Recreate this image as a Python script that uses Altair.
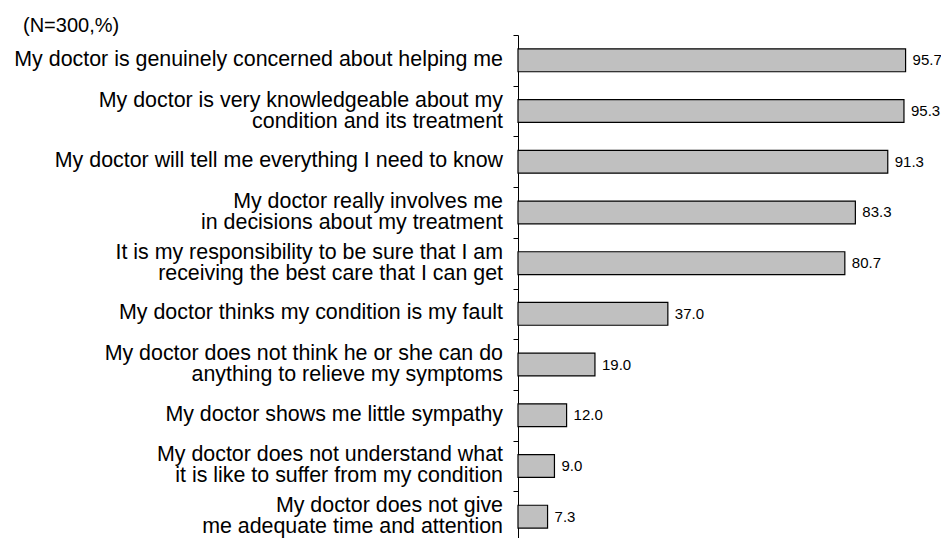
import altair as alt
import pandas as pd

categories = [
    "My doctor is genuinely concerned about helping me",
    "My doctor is very knowledgeable about my|condition and its treatment",
    "My doctor will tell me everything I need to know",
    "My doctor really involves me|in decisions about my treatment",
    "It is my responsibility to be sure that I am|receiving the best care that I can get",
    "My doctor thinks my condition is my fault",
    "My doctor does not think he or she can do|anything to relieve my symptoms",
    "My doctor shows me little sympathy",
    "My doctor does not understand what|it is like to suffer from my condition",
    "My doctor does not give|me adequate time and attention",
]
values = [95.7, 95.3, 91.3, 83.3, 80.7, 37.0, 19.0, 12.0, 9.0, 7.3]
title_text = "(N=300,%)"

df = pd.DataFrame({"item": categories, "pct": values})
df["label"] = df["pct"].map(lambda v: f"{v:.1f}")
df["nlines"] = df["item"].map(lambda s: s.count("|") + 1)

FONT = "Liberation Sans"

y_axis = alt.Y(
    "item:N",
    sort=categories,
    scale=alt.Scale(paddingInner=0, paddingOuter=0),
    axis=alt.Axis(
        title=None,
        labels=False,
        tickBand="extent",
        tickColor="black",
        tickSize=5,
        domainColor="black",
        domainWidth=1,
        tickWidth=1,
        grid=False,
    ),
)
y_plain = alt.Y("item:N", sort=categories)
x_enc = alt.X("pct:Q", scale=alt.Scale(domain=[0, 100]), axis=None)

base = alt.Chart(df)

bars = base.mark_bar(
    color="#c0c0c0", stroke="black", strokeWidth=1.2,
    height=alt.RelativeBandSize(0.45),
).encode(x=x_enc, y=y_axis)

values_text = base.mark_text(
    align="left", baseline="middle", dx=7, font=FONT, fontSize=15, color="black"
).encode(x=x_enc, y=y_plain, text="label:N")

label_style = dict(
    align="right", baseline="middle", font=FONT, fontSize=21.4,
    color="black", lineBreak="|", lineHeight=21,
)
labels_one = base.transform_filter("datum.nlines == 1").mark_text(
    dy=-0.5, **label_style
).encode(x=alt.value(-15), y=y_plain, text="item:N")
labels_two = base.transform_filter("datum.nlines > 1").mark_text(
    dy=-10.5, **label_style
).encode(x=alt.value(-15), y=y_plain, text="item:N")

chart = (
    alt.layer(bars, values_text, labels_one, labels_two)
    .properties(
        width=405,
        height=507,
        autosize=alt.AutoSizeParams(type="none"),
        padding={"left": 510, "top": 27, "right": 18, "bottom": 0},
        title=alt.TitleParams(
            text=title_text,
            font=FONT,
            fontSize=20,
            fontWeight="normal",
            color="black",
            anchor="start",
            frame="group",
            orient="top",
            dx=-495,
            dy=5,
        ),
    )
    .configure_view(stroke=None)
)

chart.save("out.html", embed_options={"renderer": "svg", "actions": False})
